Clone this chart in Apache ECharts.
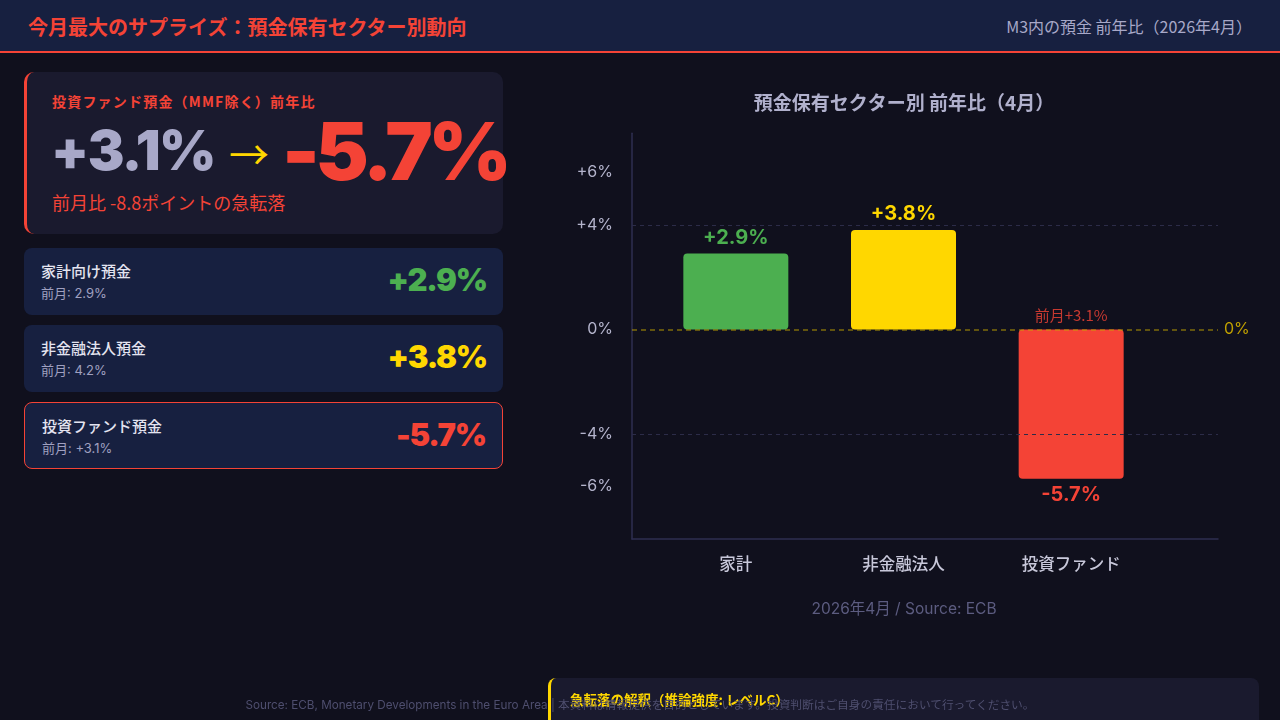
<!DOCTYPE html>
<html lang="ja">
<head>
<meta charset="utf-8">
<script src="https://cdn.jsdelivr.net/npm/echarts@6/dist/echarts.min.js"></script>
<style>
  html,body{margin:0;padding:0;width:1280px;height:720px;overflow:hidden;background:#10101d;font-family:"Inter","Noto Sans CJK JP",sans-serif;}
  .header{position:absolute;left:0;top:0;width:1280px;height:51px;background:#172040;border-bottom:2px solid #f44336;}
  .header .t{position:absolute;left:28px;top:12px;font-size:20px;font-weight:700;color:#f44336;font-family:"Noto Sans CJK JP",sans-serif;}
  .header .r{position:absolute;right:28px;top:14px;font-size:16px;color:#a8a8c8;font-family:"Noto Sans CJK JP",sans-serif;}
  .hero{position:absolute;left:24px;top:72px;width:479px;height:162px;background:#1a1a2e;border-radius:10px;border-left:3px solid #f44336;box-sizing:border-box;}
  .hero .lab{position:absolute;left:25px;top:19px;font-size:14px;font-weight:700;color:#f44336;font-family:"Noto Sans CJK JP",sans-serif;letter-spacing:1.2px;}
  .hero .num{position:absolute;white-space:nowrap;font-family:"Inter","Lato",sans-serif;font-weight:900;line-height:1;}
  .hero .prev{left:24px;top:51px;font-size:55px;color:#a8a8c8;letter-spacing:-1.5px;}
  .hero .arrow{left:202px;top:61px;font-size:40px;color:#ffd700;font-weight:400;font-family:"Noto Sans CJK JP",sans-serif;line-height:1;position:absolute;}
  .hero .cur{left:255px;top:39px;font-size:80px;color:#f44336;letter-spacing:-4.5px;}
  .hero .note{position:absolute;left:25px;top:121px;font-size:18px;line-height:1;color:#f44336;font-family:"Noto Sans CJK JP",sans-serif;}
  .card{position:absolute;left:24px;width:479px;height:67px;background:#172040;border-radius:8px;box-sizing:border-box;}
  .card.hl{border:1px solid #f44336;}
  .card .n{position:absolute;left:17px;top:12px;font-size:15px;font-weight:500;color:#e4e4f0;font-family:"Noto Sans CJK JP",sans-serif;}
  .card .p{position:absolute;left:17px;top:35px;font-size:13px;color:#a0a0c0;font-family:"Inter","Noto Sans CJK JP",sans-serif;}
  .card .v{position:absolute;right:16px;top:13px;font-size:31px;font-weight:900;font-family:"Inter","Lato",sans-serif;letter-spacing:-1.2px;}
  #chart{position:absolute;left:548px;top:0;width:712px;height:720px;}
  .note-box{position:absolute;left:548px;top:678px;width:711px;height:60px;background:#1a1a2e;border-radius:8px;border-left:3px solid #ffd700;box-sizing:border-box;}
  .note-box .t{position:absolute;left:19px;top:11px;font-size:13.5px;font-weight:700;color:#ffd700;font-family:"Noto Sans CJK JP",sans-serif;}
  .footer{position:absolute;left:0;width:1280px;top:695px;text-align:center;font-size:11.7px;color:#4e4e6e;font-family:"Inter","Noto Sans CJK JP",sans-serif;z-index:5;}
</style>
</head>
<body>
<div class="header"><div class="t">今月最大のサプライズ：預金保有セクター別動向</div><div class="r">M3内の預金 前年比（2026年4月）</div></div>
<div class="hero">
  <div class="lab">投資ファンド預金（MMF除く）前年比</div>
  <div class="num prev" id="heroPrev"></div>
  <div class="arrow">→</div>
  <div class="num cur" id="heroCur"></div>
  <div class="note" id="heroNote"></div>
</div>
<div id="cards"></div>
<div id="chart"></div>
<div class="note-box"><div class="t">急転落の解釈（推論強度: レベルC）</div></div>
<div class="footer">Source: ECB, Monetary Developments in the Euro Area | 本資料は情報提供を目的としています。投資判断はご自身の責任において行ってください。</div>
<script>
// ---- data ----
const categories = ['家計', '非金融法人', '投資ファンド'];
const cardNames = ['家計向け預金', '非金融法人預金', '投資ファンド預金'];
const values = [2.9, 3.8, -5.7];
const prevValues = [2.9, 4.2, 3.1];
const prevLabels = ['2.9%', '4.2%', '+3.1%'];
const colors = ['#4caf50', '#ffd700', '#f44336'];
const tickLabels = [6, 4, 0, -4, -6];
const gridValues = [4, -4];
const axisMin = -8, axisMax = 7.5;

const fmt = v => (v > 0 ? '+' : '') + v.toFixed(1) + '%';

// ---- left panel ----
document.getElementById('heroPrev').textContent = fmt(prevValues[2]);
document.getElementById('heroCur').textContent = fmt(values[2]);
document.getElementById('heroNote').textContent = '前月比 ' + (values[2] - prevValues[2]).toFixed(1) + 'ポイントの急転落';
const cardTops = [248, 325, 402];
let html = '';
cardNames.forEach((n, i) => {
  html += `<div class="card${i === 2 ? ' hl' : ''}" style="top:${cardTops[i]}px"><div class="n">${n}</div><div class="p">前月: ${prevLabels[i]}</div><div class="v" style="color:${colors[i]}">${fmt(values[i])}</div></div>`;
});
document.getElementById('cards').innerHTML = html;

// ---- chart ----
const chart = echarts.init(document.getElementById('chart'));
chart.setOption({
  backgroundColor: 'transparent',
  animation: false,
  textStyle: { fontFamily: '"Inter","Noto Sans CJK JP",sans-serif' },
  title: [
    { text: '預金保有セクター別 前年比（4月）', left: 'center', top: 88,
      textStyle: { color: '#b0b0cc', fontSize: 19, fontWeight: 700, fontFamily: '"Noto Sans CJK JP",sans-serif' } },
    { text: '2026年4月 / Source: ECB', left: 'center', top: 597,
      textStyle: { color: '#5c5c80', fontSize: 15.5, fontWeight: 400, fontFamily: '"Inter","Noto Sans CJK JP",sans-serif' } }
  ],
  grid: [
    { left: 84, right: 42, top: 133.2, bottom: 181.1 },
    { left: 104, right: 105, top: 133.2, bottom: 181.1 }
  ],
  xAxis: [
    { type: 'value', gridIndex: 0, min: 0, max: 1, axisLine: { show: true, onZero: false, lineStyle: { color: '#2e2e50', width: 1.5 } },
      axisTick: { show: false }, axisLabel: { show: false }, splitLine: { show: false } },
    { type: 'category', gridIndex: 1, data: categories, axisLine: { show: false }, axisTick: { show: false },
      axisLabel: { color: '#c8c8da', fontSize: 16.5, fontWeight: 500, margin: 17, fontFamily: '"Noto Sans CJK JP",sans-serif' } }
  ],
  yAxis: [
    { type: 'value', gridIndex: 0, min: axisMin, max: axisMax, interval: 2,
      axisLine: { show: true, lineStyle: { color: '#2e2e50', width: 1.5 } }, axisTick: { show: false },
      splitLine: { show: false },
      axisLabel: { color: '#b4b4cc', fontSize: 16, margin: 19,
        formatter: v => tickLabels.indexOf(v) >= 0 ? (v > 0 ? '+' : '') + v + '%' : '' } },
    { type: 'value', gridIndex: 1, min: axisMin, max: axisMax, interval: 2, show: false, splitLine: { show: false } }
  ],
  series: [
    { type: 'line', xAxisIndex: 0, yAxisIndex: 0, data: [], silent: true,
      markLine: { silent: true, symbol: 'none',
        data: gridValues.map(g => ({ yAxis: g, lineStyle: { color: '#2c2c48', type: [4, 4], width: 1 }, label: { show: false } }))
          .concat([{ yAxis: 0, lineStyle: { color: 'rgba(200,170,0,0.6)', type: [5, 4], width: 1.5 },
            label: { show: true, position: 'end', distance: 6, formatter: '0%', color: '#c0a000', fontSize: 16 } }]) } },
    { type: 'bar', xAxisIndex: 1, yAxisIndex: 1, barWidth: 105,
      data: values.map((v, i) => ({ value: v, itemStyle: { color: colors[i], borderRadius: 4 },
        label: { show: true, position: v >= 0 ? 'top' : 'bottom', distance: v >= 0 ? 6 : 6, color: colors[i],
          fontSize: 20, fontWeight: 700, formatter: fmt(v) } })) },
    { type: 'scatter', xAxisIndex: 1, yAxisIndex: 1, symbolSize: 0, silent: true,
      data: [{ value: [2, 0], label: { show: true, position: 'top', distance: 7, formatter: '前月' + prevLabels[2],
        color: '#f44336', fontSize: 15, fontFamily: '"Noto Sans CJK JP",sans-serif' } }] }
  ]
});
</script>
</body>
</html>
